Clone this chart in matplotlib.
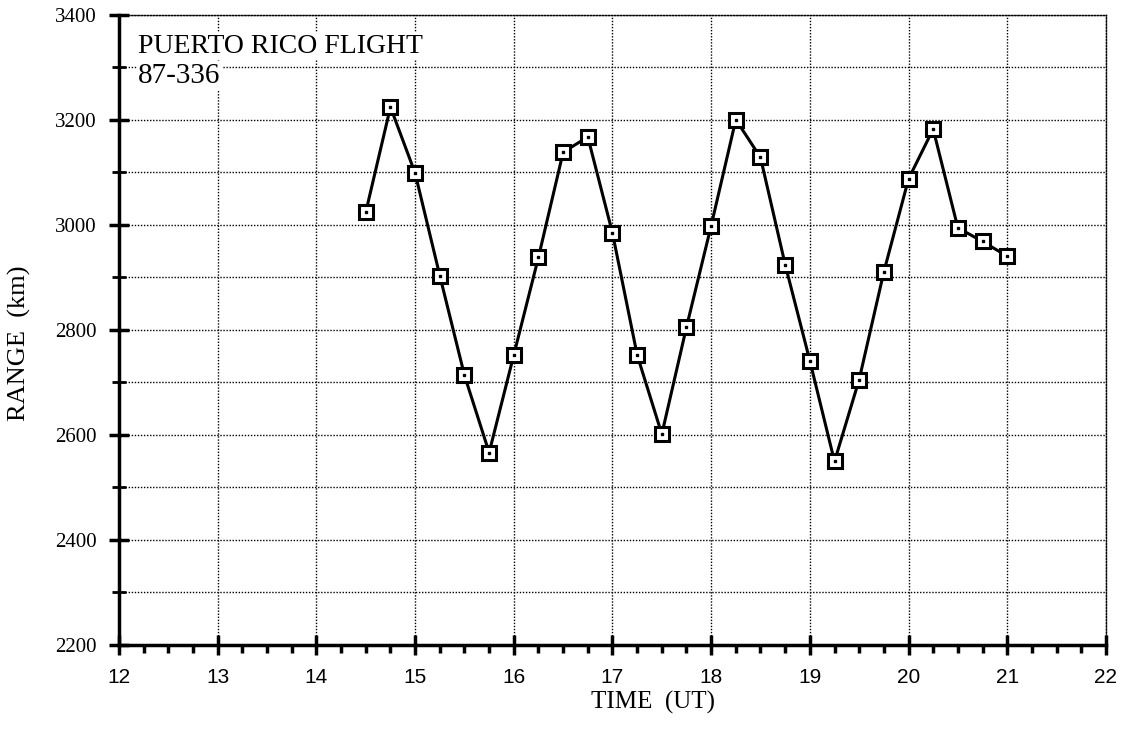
import matplotlib.pyplot as plt
from matplotlib.ticker import MultipleLocator

# time (UT) and range (km)
times = [14.5, 14.75, 15.0, 15.25, 15.5, 15.75, 16.0, 16.25, 16.5, 16.75,
         17.0, 17.25, 17.5, 17.75, 18.0, 18.25, 18.5, 18.75, 19.0, 19.25,
         19.5, 19.75, 20.0, 20.25, 20.5, 20.75, 21.0]
ranges = [3024, 3224, 3098, 2903, 2713, 2566, 2752, 2938, 3138, 3167,
          2984, 2752, 2601, 2805, 2998, 3200, 3128, 2924, 2741, 2549,
          2705, 2910, 3087, 3182, 2994, 2968, 2940]
x_ticks = list(range(12, 23))
y_ticks = list(range(2200, 3401, 200))

serif = "Liberation Serif"
sans = "Liberation Sans"

fig = plt.figure(figsize=(11.29, 7.31), dpi=100)
ax = fig.add_axes([0.1055, 0.118, 0.874, 0.862])

ax.plot(times, ranges, color="black", lw=2.2, zorder=3)
ax.plot(times, ranges, ls="none", marker="s", ms=9.5, mfc="white",
        mec="black", mew=2.2, zorder=4)
ax.plot(times, ranges, ls="none", marker="s", ms=1.8, color="black", zorder=5)

ax.set_xlim(12, 22)
ax.set_ylim(2200, 3400)
ax.set_xticks(x_ticks)
ax.set_yticks(y_ticks)
ax.xaxis.set_minor_locator(MultipleLocator(0.25))
ax.yaxis.set_minor_locator(MultipleLocator(100))

ax.grid(True, which="major", axis="x", ls=(0, (1, 1.2)), color="black", lw=1)
ax.grid(True, which="both", axis="y", ls=(0, (1, 1.2)), color="black", lw=1)

for s in ["top", "right"]:
    ax.spines[s].set_linestyle((0, (1, 1.2)))
    ax.spines[s].set_linewidth(1)
for s in ["left", "bottom"]:
    ax.spines[s].set_linewidth(2.5)

ax.tick_params(axis="x", which="major", direction="inout", length=14, width=2.5, pad=10)
ax.tick_params(axis="x", which="minor", direction="out", length=6, width=2.5)
ax.tick_params(axis="y", which="major", direction="inout", length=14, width=2.5, pad=9)
ax.tick_params(axis="y", which="minor", direction="inout", length=10, width=2)

for lab in ax.get_xticklabels():
    lab.set_fontfamily(sans)
    lab.set_fontsize(15)
for lab in ax.get_yticklabels():
    lab.set_fontfamily(serif)
    lab.set_fontsize(15)

ax.set_xlabel("TIME  (UT)", fontfamily=serif, fontsize=18)
ax.xaxis.set_label_coords(0.541, -0.074)
ax.set_ylabel("RANGE  (km)", fontfamily=serif, fontsize=19)
ax.yaxis.set_label_coords(-0.089, 0.479)

box = dict(facecolor="white", edgecolor="none", pad=1)
ax.text(0.0193, 0.9397, "PUERTO RICO FLIGHT", transform=ax.transAxes,
        ha="left", va="baseline", fontfamily=serif, fontsize=20, bbox=box, zorder=6)
ax.text(0.0193, 0.892, "87-336", transform=ax.transAxes,
        ha="left", va="baseline", fontfamily=serif, fontsize=21, bbox=box, zorder=6)

fig.savefig("out.png", dpi=100)
